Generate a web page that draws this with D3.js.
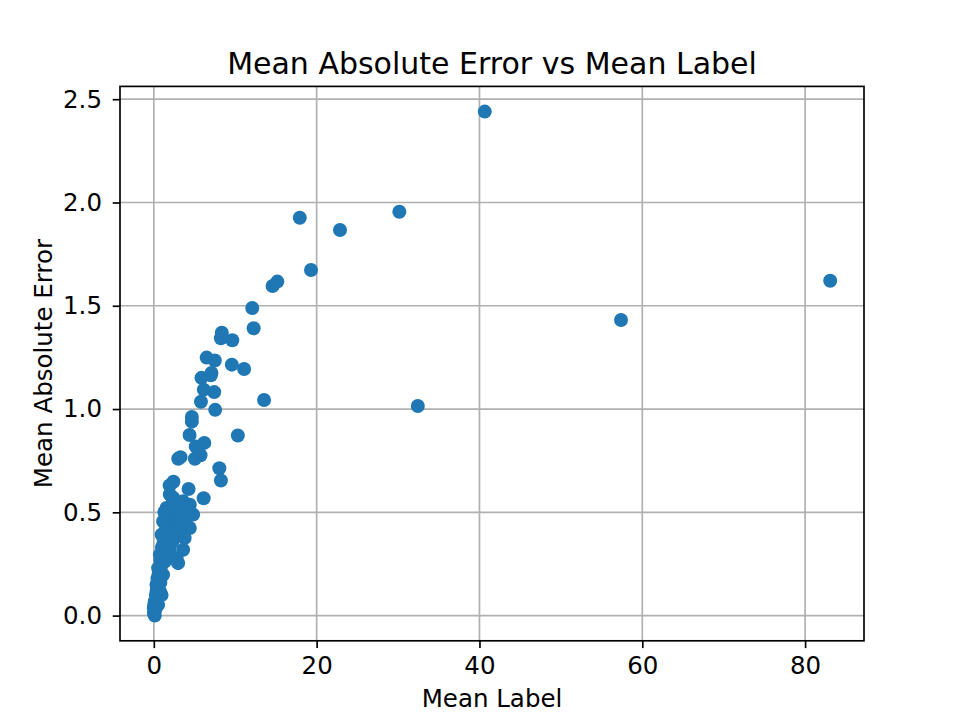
<!DOCTYPE html>
<html>
<head>
<meta charset="utf-8">
<script src="https://cdn.jsdelivr.net/npm/d3@7"></script>
<style>
  html, body { margin: 0; padding: 0; background: #fff; }
  svg { display: block; font-family: "DejaVu Sans", sans-serif; }
</style>
</head>
<body>
<svg id="chart" width="960" height="720"></svg>
<script>
const titleText = "Mean Absolute Error vs Mean Label";
const xLabelText = "Mean Label";
const yLabelText = "Mean Absolute Error";
const xTicks = [0, 20, 40, 60, 80];
const yTicks = [0.0, 0.5, 1.0, 1.5, 2.0, 2.5];

const meanLabel = [
  40.65, 17.93, 22.87, 30.16, 19.31, 14.59, 15.17, 83.08, 12.09, 12.26,
  57.39, 8.35, 8.24, 9.64, 6.49, 7.49, 9.58, 11.09, 7.08, 7.0,
  5.85, 6.14, 7.42, 13.54, 32.43, 5.79, 7.54, 4.67, 4.67, 10.32,
  4.39, 6.20, 5.15, 5.74, 5.04, 3.28, 3.0, 8.05, 8.24, 2.41,
  1.94, 4.27, 6.12,
  1.97, 2.37, 3.6, 4.42, 4.83, 1.56, 1.14, 4.02, 4.42, 0.95,
  1.97, 3.78, 3.6, 2.79, 2.98, 0.74, 1.35, 0.53, 1.14, 0.33,
  0.74, 0.95, 0.12, 0.53, 0.0, 0.12, 0.02,
  2.8, 3.2, 2.5, 2.0, 1.6, 3.0, 2.6, 2.2, 1.8, 1.4,
  3.4, 2.4, 2.9, 1.7, 1.2, 2.3, 1.0, 1.6, 2.0, 0.8,
  1.1, 1.9, 0.6, 0.9, 0.45, 0.8, 0.35, 0.5, 0.25, 0.2,
  0.3, 0.1, 0.05, 0.15, 0.4, 0.6, 0.7, 3.3, 3.8, 4.0,
  3.9, 2.4, 2.7, 1.3, 1.2, 2.1
];
const meanAbsError = [
  2.44, 1.926, 1.867, 1.955, 1.673, 1.596, 1.617, 1.621, 1.489, 1.391,
  1.431, 1.369, 1.343, 1.333, 1.249, 1.235, 1.215, 1.194, 1.175, 1.163,
  1.151, 1.094, 1.082, 1.044, 1.015, 1.035, 0.996, 0.962, 0.939, 0.872,
  0.874, 0.836, 0.819, 0.776, 0.759, 0.767, 0.759, 0.713, 0.654, 0.648,
  0.630, 0.613, 0.568,
  0.586, 0.553, 0.553, 0.537, 0.489, 0.521, 0.456, 0.44, 0.424, 0.392,
  0.375, 0.375, 0.319, 0.278, 0.254, 0.295, 0.262, 0.23, 0.198, 0.149,
  0.117, 0.10, 0.068, 0.052, 0.035, 0.0, 0.01,
  0.52, 0.5, 0.49, 0.5, 0.48, 0.46, 0.44, 0.43, 0.42, 0.41,
  0.43, 0.40, 0.41, 0.36, 0.35, 0.36, 0.33, 0.32, 0.34, 0.27,
  0.3, 0.31, 0.2, 0.24, 0.18, 0.16, 0.12, 0.09, 0.1, 0.06,
  0.04, 0.02, 0.05, 0.03, 0.14, 0.13, 0.19, 0.47, 0.46, 0.50,
  0.52, 0.57, 0.55, 0.5, 0.38, 0.28
];

const W = 960, H = 720;
const mLeft = 120, mRight = 864, mTop = 86.4, mBottom = 640.8;
const lw = 1.67;
const svg = d3.select("#chart");

function padded(ext) {
  const d = ext[1] - ext[0];
  return [ext[0] - 0.05 * d, ext[1] + 0.05 * d];
}
const x = d3.scaleLinear().domain(padded(d3.extent(meanLabel))).range([mLeft, mRight]);
const y = d3.scaleLinear().domain(padded(d3.extent(meanAbsError))).range([mBottom, mTop]);

// grid
const grid = svg.append("g");
grid.selectAll("line.gx").data(xTicks).enter().append("line")
  .attr("x1", d => x(d)).attr("x2", d => x(d)).attr("y1", mTop).attr("y2", mBottom)
  .attr("stroke", "#b0b0b0").attr("stroke-width", lw);
grid.selectAll("line.gy").data(yTicks).enter().append("line")
  .attr("y1", d => y(d)).attr("y2", d => y(d)).attr("x1", mLeft).attr("x2", mRight)
  .attr("stroke", "#b0b0b0").attr("stroke-width", lw);

// points
svg.append("g").selectAll("circle").data(meanLabel.map((v, i) => [v, meanAbsError[i]]))
  .enter().append("circle")
  .attr("cx", d => x(d[0])).attr("cy", d => y(d[1])).attr("r", 7)
  .attr("fill", "#1f77b4");

// axes
const fs = 24.5;
const xAxis = d3.axisBottom(x).tickValues(xTicks).tickFormat(d3.format("d"))
  .tickSizeInner(7.3).tickSizeOuter(0).tickPadding(8.5);
const yAxis = d3.axisLeft(y).tickValues(yTicks).tickFormat(d3.format(".1f"))
  .tickSizeInner(7.3).tickSizeOuter(0).tickPadding(10.7);

const gx = svg.append("g").attr("transform", `translate(0,${mBottom})`).call(xAxis);
const gy = svg.append("g").attr("transform", `translate(${mLeft},0)`).call(yAxis);
[gx, gy].forEach(g => {
  g.select(".domain").remove();
  g.selectAll(".tick line").attr("stroke", "#000").attr("stroke-width", lw);
  g.selectAll(".tick text").attr("fill", "#000")
    .style("font-family", "'DejaVu Sans', sans-serif").style("font-size", fs + "px");
});

// frame
svg.append("rect").attr("x", mLeft).attr("y", mTop)
  .attr("width", mRight - mLeft).attr("height", mBottom - mTop)
  .attr("fill", "none").attr("stroke", "#000").attr("stroke-width", lw);

// labels
svg.append("text").attr("x", (mLeft + mRight) / 2).attr("y", 74.3)
  .attr("text-anchor", "middle").style("font-size", "30px").text(titleText);
svg.append("text").attr("x", (mLeft + mRight) / 2).attr("y", 706.5)
  .attr("text-anchor", "middle").style("font-size", fs + "px").text(xLabelText);
svg.append("text").attr("transform", `translate(51.5,${(mTop + mBottom) / 2}) rotate(-90)`)
  .attr("text-anchor", "middle").style("font-size", fs + "px").text(yLabelText);
</script>
</body>
</html>
